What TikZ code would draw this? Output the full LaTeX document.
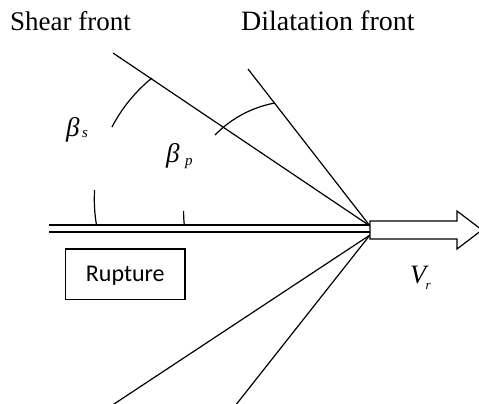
\documentclass[tikz,border=0pt]{standalone}
\usepackage{fontspec}
\setmainfont{Liberation Serif}
\newfontfamily\rupfont{Carlito}
\usetikzlibrary{calc}
\tikzset{
  ln/.style={line width=1.2pt, black},
  lbl/.style={inner sep=0pt, anchor=base west},
}
\begin{document}
\begin{tikzpicture}[x=1pt,y=-1pt]
\useasboundingbox (0,0) rectangle (479,404);
% front lines
\coordinate (apexU) at (370,226);
\coordinate (apexL) at (370,235);
\coordinate (shU) at (113,53);
\coordinate (dilU) at (248,69);
\coordinate (shL) at (111,406);
\coordinate (dilL) at (235,406);
\draw[ln] (shU) -- (apexU);
\draw[ln] (dilU) -- (apexU);
\draw[ln] (shL) -- (apexL);
\draw[ln] (dilL) -- (apexL);
% rupture double line
\coordinate (r1a) at (49,225);
\coordinate (r1b) at (370,225);
\coordinate (r2a) at (49,232);
\coordinate (r2b) at (370,232);
\draw[ln] (r1a) -- (r1b);
\draw[ln] (r2a) -- (r2b);
% velocity arrow
\draw[ln, fill=white] (370,221) -- (457,221) -- (457,211) -- (482,230) -- (457,249) -- (457,239) -- (370,239) -- cycle;
% beta_s arc
\coordinate (cs) at (250.3,199.1);
\draw[ln] ($(cs)+(170.4:156)$) arc[start angle=170.4, end angle=183.3, radius=156];
\draw[ln] ($(cs)+(207.5:156)$) arc[start angle=207.5, end angle=230.9, radius=156];
% beta_p arc
\coordinate (cp) at (294.9,212.5);
\draw[ln] ($(cp)+(173.6:111.3)$) arc[start angle=173.6, end angle=180.8, radius=111.3];
\draw[ln] ($(cp)+(224.1:111.3)$) arc[start angle=224.1, end angle=259.7, radius=111.3];
% labels
\node[lbl] (shear) at (10,31) {\fontsize{27}{27}\selectfont Shear front};
\node[lbl] (dil) at (241,31) {\fontsize{28}{28}\selectfont Dilatation front};
\node[lbl] (bs) at (66,136) {\fontsize{27}{27}\selectfont\itshape β};
\node[lbl] (bss) at (82,137.5) {\fontsize{15}{15}\selectfont\itshape s};
\node[lbl] (bp) at (166,162) {\fontsize{27}{27}\selectfont\itshape β};
\node[lbl] (bps) at (185,165.5) {\fontsize{15}{15}\selectfont\itshape p};
\node[lbl] (v) at (410,283.3) {\fontsize{26.5}{26.5}\selectfont\itshape V};
\node[lbl] (vr) at (425.5,289) {\fontsize{13}{13}\selectfont\itshape r};
% rupture box
\node[draw, line width=1.2pt, minimum width=119.3pt, minimum height=50.3pt, inner sep=0pt] (rupbox) at (125.3,274.2) {};
\node[inner sep=0pt, anchor=base] (ruptxt) at (125.3,281.7) {\rupfont\fontsize{24}{24}\selectfont Rupture};
\end{tikzpicture}
\end{document}
